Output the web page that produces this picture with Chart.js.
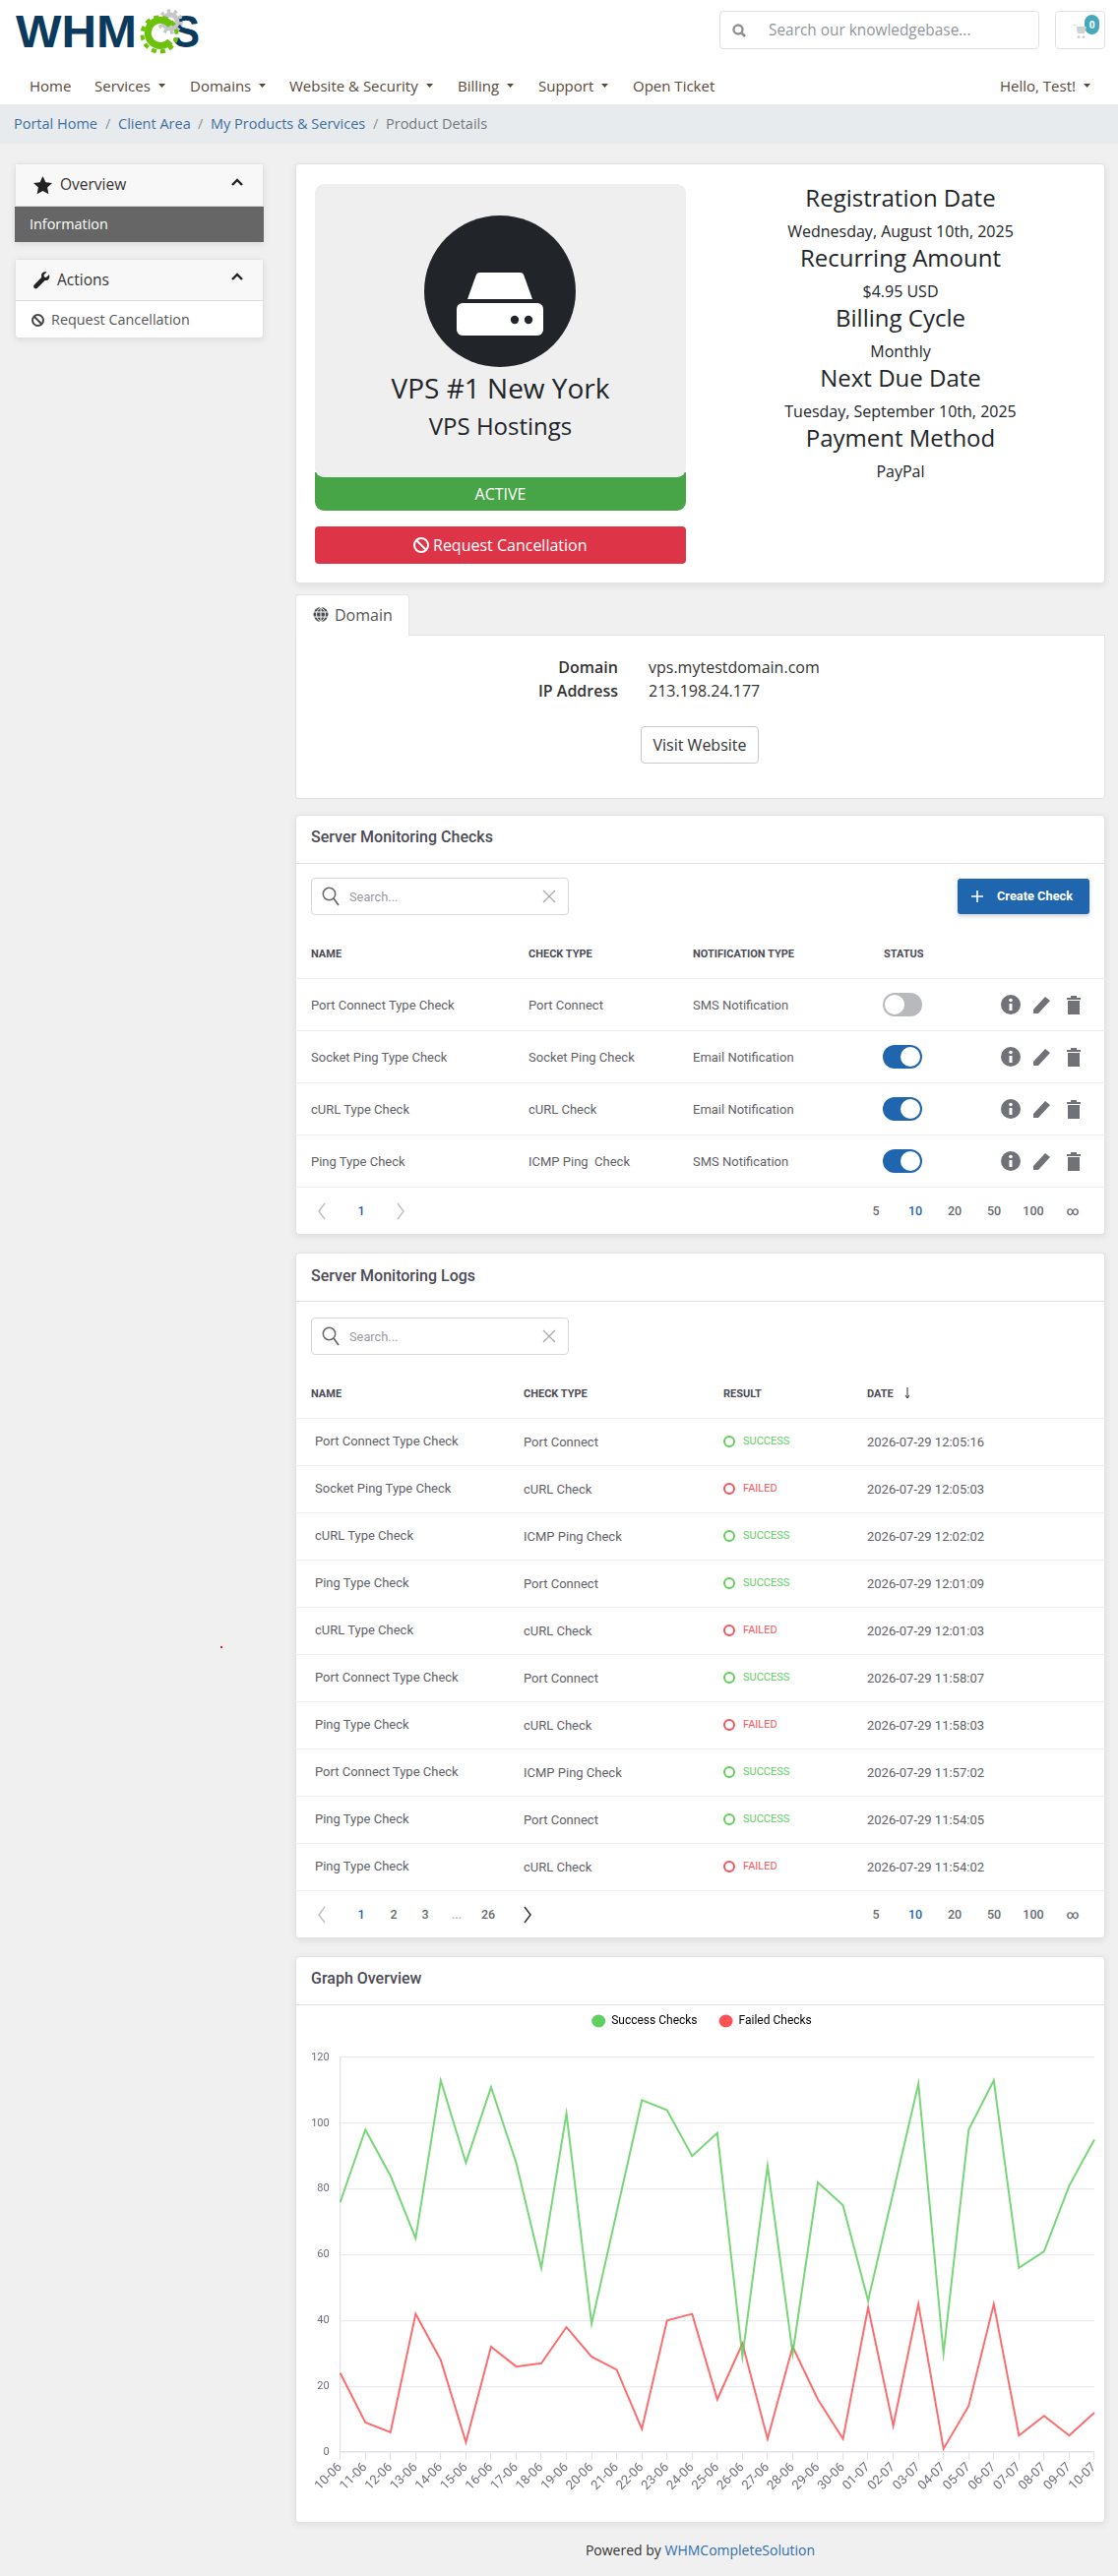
<!DOCTYPE html>
<html>
<head>
<meta charset="utf-8">
<title>Product Details</title>
<script src="https://cdn.jsdelivr.net/npm/chart.js@4"></script>
<style>
html,body{margin:0;padding:0;background:#f0f0f0;}
body{position:relative;width:1136px;height:2618px;overflow:hidden;font-family:"Open Sans",sans-serif;color:#212529;}
.b{position:absolute;box-sizing:border-box;}
.t{position:absolute;white-space:pre;line-height:1;}
.card{background:#fff;border:1px solid #e2e2e6;border-radius:4px;box-shadow:0 2px 6px rgba(60,60,90,.10);}
.r{font-family:Roboto,sans-serif;}
svg{position:absolute;overflow:visible;}
#graphWrap{position:absolute;left:300px;top:2026px;width:823px;height:536px;z-index:5;}
#graph{display:block;}
</style>
</head>
<body>
<div id="graphWrap"><canvas id="graph" width="823" height="536"></canvas></div>
<script>
const dayLabels = ["10-06","11-06","12-06","13-06","14-06","15-06","16-06","17-06","18-06","19-06","20-06","21-06","22-06","23-06","24-06","25-06","26-06","27-06","28-06","29-06","30-06","01-07","02-07","03-07","04-07","05-07","06-07","07-07","08-07","09-07","10-07"];
const successChecks = [76,98,84,65,113,88,111,88,56,103,39,73,107,104,90,97,29,87,30,82,75,46,79,112,30,98,113,56,61,81,95];
const failedChecks = [24,9,6,42,28,3,32,26,27,38,29,25,7,40,42,16,33,4,32,16,4,44,8,45,1,14,45,5,11,5,12];
const yTicks = [0,20,40,60,80,100,120];

const navItems = [["Home",30,0],["Services",96,1],["Domains",193,1],["Website & Security",294,1],["Billing",465,1],["Support",547,1],["Open Ticket",643,0],["Hello, Test!",1016,1]];
const crumbs = [["Portal Home",14,"#3d6f9e"],["/",107,"#8a8f95"],["Client Area",120,"#3d6f9e"],["/",201,"#8a8f95"],["My Products & Services",214,"#3d6f9e"],["/",379,"#8a8f95"],["Product Details",392,"#70777d"]];
const productInfo = [["Registration Date",201,24],["Wednesday, August 10th, 2025",235,16],["Recurring Amount",262,24],["$4.95 USD",296,16],["Billing Cycle",323,24],["Monthly",357,16],["Next Due Date",384,24],["Tuesday, September 10th, 2025",418,16],["Payment Method",445,24],["PayPal",479,16]];
const checkRows = [["Port Connect Type Check","Port Connect","SMS Notification",0],["Socket Ping Type Check","Socket Ping Check","Email Notification",1],["cURL Type Check","cURL Check","Email Notification",1],["Ping Type Check","ICMP Ping  Check","SMS Notification",1]];
const logRows = [["Port Connect Type Check","Port Connect","SUCCESS","2026-07-29 12:05:16"],["Socket Ping Type Check","cURL Check","FAILED","2026-07-29 12:05:03"],["cURL Type Check","ICMP Ping Check","SUCCESS","2026-07-29 12:02:02"],["Ping Type Check","Port Connect","SUCCESS","2026-07-29 12:01:09"],["cURL Type Check","cURL Check","FAILED","2026-07-29 12:01:03"],["Port Connect Type Check","Port Connect","SUCCESS","2026-07-29 11:58:07"],["Ping Type Check","cURL Check","FAILED","2026-07-29 11:58:03"],["Port Connect Type Check","ICMP Ping Check","SUCCESS","2026-07-29 11:57:02"],["Ping Type Check","Port Connect","SUCCESS","2026-07-29 11:54:05"],["Ping Type Check","cURL Check","FAILED","2026-07-29 11:54:02"]];
const pageSizes = [["5",890],["10",930],["20",970],["50",1010],["100",1050],["∞",1090]];

const B = document.body;
const WRAP = document.getElementById('graphWrap');
function box(x,y,w,h,css,cls){const d=document.createElement('div');d.className='b '+(cls||'');d.style.cssText=`left:${x}px;top:${y}px;width:${w}px;height:${h}px;`+(css||'');B.insertBefore(d,WRAP);return d;}
function text(x,y,s,css,anchor,cls){const d=document.createElement('div');d.className='t '+(cls||'');d.textContent=s;const tx=anchor==='c'?'-50%':anchor==='r'?'-100%':'0';d.style.cssText=`left:${x}px;top:${y}px;transform:translate(${tx},-50%);`+(css||'');B.appendChild(d);return d;}
function svg(x,y,w,h,inner,vb){const n='http://www.w3.org/2000/svg';const s=document.createElementNS(n,'svg');s.setAttribute('viewBox',vb||`0 0 ${w} ${h}`);s.style.cssText=`left:${x}px;top:${y}px;width:${w}px;height:${h}px;`;s.innerHTML=inner;B.appendChild(s);return s;}
function banIcon(x,y,r,c){svg(x-r,y-r,2*r,2*r,`<circle cx="${r}" cy="${r}" r="${r-1}" fill="none" stroke="${c}" stroke-width="2"/><line x1="${r*.35}" y1="${r*.35}" x2="${r*1.65}" y2="${r*1.65}" stroke="${c}" stroke-width="2"/>`);}

/* header */
box(0,0,1136,106,'background:#fff;');
box(0,106,1136,40,'background:#e8ebee;');
svg(10,5,200,55,`
<text x="6" y="43" font-family="Liberation Sans" font-weight="700" font-size="46" fill="#0b3a5c" textLength="123" lengthAdjust="spacingAndGlyphs">WHM</text>
<text x="165" y="43" font-family="Liberation Sans" font-weight="700" font-size="46" fill="#0b3a5c" textLength="28" lengthAdjust="spacingAndGlyphs">S</text>
<g fill="none">
<circle cx="163" cy="17" r="11" stroke="#c4c6c8" stroke-width="3.500" stroke-dasharray="3.500 3.400"/>
<circle cx="163" cy="17" r="7" stroke="#c4c6c8" stroke-width="5"/>
<circle cx="152" cy="30" r="17.500" stroke="#6cc20a" stroke-width="4" stroke-dasharray="5 4.160" transform="rotate(10 152 30)"/>
<path d="M163.500 20.500A13 13 0 1 0 163 37" stroke="#6cc20a" stroke-width="7"/>
<path d="M160 20a3.500 3.500 0 0 0 5 -4" stroke="#6cc20a" stroke-width="2.500"/>
</g>`);
box(731,11,325,39,'background:#fff;border:1px solid #dee2e6;border-radius:4px;');
svg(744,24,14,14,`<circle cx="6" cy="6" r="4.500" fill="none" stroke="#8d9296" stroke-width="2.400"/><line x1="9" y1="9" x2="13" y2="13" stroke="#8d9296" stroke-width="2.600"/>`);
text(781,31,"Search our knowledgebase...","font-size:15.400px;color:#8f959a;");
box(1072,11,51,39,'background:#fff;border:1px solid #dee2e6;border-radius:4px;');
svg(1090,24,14,16,`<path d="M0 1h3l2 9h7l2-7H4" fill="#cfd2d5"/><circle cx="6" cy="13.500" r="1.600" fill="#cfd2d5"/><circle cx="11" cy="13.500" r="1.600" fill="#cfd2d5"/>`);
box(1102,15,15,20,'background:#45a9bd;border-radius:8px;');
text(1109.500,25,"0","font-size:10px;font-weight:700;color:#fff;",'c');
navItems.forEach(([s,x,c])=>{const el=text(x,87,s,"font-size:15px;color:#58493b;");if(c){const w=el.getBoundingClientRect().width;svg(x+w+8,85,8,5,`<path d="M0 0h7L3.500 4z" fill="#58493b"/>`);}});
crumbs.forEach(([s,x,c])=>text(x,126,s,`font-size:14.500px;color:${c};`));

/* sidebar */
box(15,166,253,81,'',"card");
box(16,167,251,43,'background:#f8f8f8;border-bottom:1px solid #ddd;');
box(15,210,253,36,'background:#666;');
svg(34,179,19,19,`<path d="M9.500 0l2.900 6.200 6.600.8-4.900 4.600 1.300 6.700-5.900-3.300-5.900 3.300 1.300-6.700L0 7l6.600-.8z" fill="#222"/>`);
text(61,188,"Overview","font-size:15.500px;color:#333;");
svg(235,181,12,8,`<polyline points="1,7 6,2 11,7" fill="none" stroke="#222" stroke-width="2.400"/>`);
text(30,228,"Information","font-size:14.400px;color:#fff;");
box(15,263,253,81,'',"card");
box(16,264,251,42,'background:#f8f8f8;border-bottom:1px solid #ddd;');
svg(34,276,17,18,`<path d="M16 3l-3 3-2-.5L10.500 3.500l3-3C10.500-.5 8 1.500 8 4c0 .8.1 1.200.3 1.700L.8 13.500c-.9 1-.9 2.300 0 3.200s2.200.9 3.100 0l7.800-7.700c2.700.7 5.500-1.700 4.300-6z" fill="#222"/>`);
text(58,285,"Actions","font-size:15.500px;color:#333;");
svg(235,277,12,8,`<polyline points="1,7 6,2 11,7" fill="none" stroke="#222" stroke-width="2.400"/>`);
banIcon(38.500,325,6.500,"#444");
text(52,325,"Request Cancellation","font-size:14.400px;color:#555;");

/* product card */
box(300,166,823,427,'',"card");
box(320,480,377,39,'background:#47a548;border-radius:0 0 9px 9px;');
box(320,187,377,298,'background:#efefef;border-radius:9px;');
text(508.500,502,"ACTIVE","font-size:16px;color:#fff;",'c');
box(320,535,377,38,'background:#dd3547;border-radius:4px;');
banIcon(428,554,8,"#fff");
text(440,554,"Request Cancellation","font-size:16px;color:#fff;");
svg(431,219,154,154,`<circle cx="77" cy="77" r="77" fill="#212529"/>
<path d="M53 60Q54 58 56 58H98Q100 58 101 60L110 85H44Z" fill="#fff"/>
<rect x="33" y="90" width="88" height="33" rx="6" fill="#fff" transform="translate(0,-1)"/>
<circle cx="92" cy="106" r="4.200" fill="#212529"/><circle cx="106" cy="106" r="4.200" fill="#212529"/>`);
text(508.500,393.500,"VPS #1 New York","font-size:28px;color:#212529;",'c');
text(508.500,432.500,"VPS Hostings","font-size:24px;color:#212529;",'c');
productInfo.forEach(([s,y,f])=>text(915,y,s,`font-size:${f}px;color:#212529;`,'c'));

/* domain */
box(300,645,823,167,'background:#fff;border:1px solid #e0e0e0;border-radius:0 0 3px 3px;');
box(300,604,116,42,'background:#fff;border:1px solid #e4e4e4;border-bottom:none;border-radius:4px 4px 0 0;');
svg(318,616,16,17,`<circle cx="8" cy="8.500" r="7.500" fill="#4a4f54"/><path d="M0 6h16M0 11h16M8 1v15M8 1c-6 4-6 11 0 15M8 1c6 4 6 11 0 15" stroke="#fff" stroke-width="1" fill="none"/>`);
text(340,625,"Domain","font-size:16px;color:#555;");
text(628,678,"Domain","font-size:16px;font-weight:600;color:#333;",'r');
text(628,702,"IP Address","font-size:16px;font-weight:600;color:#333;",'r');
text(659,678,"vps.mytestdomain.com","font-size:16px;color:#333;");
text(659,702,"213.198.24.177","font-size:16px;color:#333;");
box(651,738,120,38,'background:#fff;border:1px solid #c8c8c8;border-radius:4px;');
text(711,757,"Visit Website","font-size:16px;color:#333;",'c');

/* helpers for datatable cards */
function searchBox(y){
 box(316,y,262,38,'background:#fff;border:1px solid #d8d6de;border-radius:4px;');
 svg(327,y+9,18,20,`<circle cx="7.500" cy="7.500" r="6.200" fill="none" stroke="#666" stroke-width="1.500"/><line x1="12" y1="12" x2="17" y2="19" stroke="#666" stroke-width="1.700"/>`);
 text(355,y+19.500,"Search...","font-size:12.800px;color:#9a9aa2;","l","r");
 svg(552,y+13,12,12,`<path d="M0 0L12 12M12 0L0 12" stroke="#a8a8ae" stroke-width="1.200"/>`);
}
function sizes(y){
 pageSizes.forEach(([s,x])=>text(x,y,s,`font-size:12.500px;font-weight:500;color:${s==='10'?'#1f66ae':'#66696f'};`,'c','r'));
}
function chev(x,y,dir,c){const p=dir<0?"7,0 1,8 7,16":"1,0 7,8 1,16";svg(x-4,y-8,8,16,`<polyline points="${p}" fill="none" stroke="${c}" stroke-width="1.500"/>`);}

/* checks */
box(300,828,823,427,'',"card");
box(300,877,823,1,'background:#e0e0e6;');
text(316,851,"Server Monitoring Checks","font-size:16px;font-weight:500;color:#4b4b55;","l","r");
searchBox(892);
box(973,893,134,36,'background:#1f66ae;border-radius:3px;box-shadow:0 2px 4px rgba(0,0,0,.2);');
svg(987,905,12,12,`<path d="M6 0v12M0 6h12" stroke="#fff" stroke-width="1.600"/>`);
text(1013,911,"Create Check","font-size:12.800px;font-weight:700;color:#fff;","l","r");
[["NAME",316],["CHECK TYPE",537],["NOTIFICATION TYPE",704],["STATUS",898]].forEach(([s,x])=>text(x,969,s,"font-size:11px;font-weight:700;color:#4b4b55;","l","r"));
[994,1047,1100,1153,1206].forEach(y=>box(300,y,823,1,'background:#eeeef2;'));
checkRows.forEach((row,i)=>{
 const y=1021+i*53;
 text(316,y-0.500,row[0],"font-size:13px;color:#5f5f68;","l","r");
 text(537,y-0.500,row[1],"font-size:13px;color:#5f5f68;","l","r");
 text(704,y-0.500,row[2],"font-size:13px;color:#5f5f68;","l","r");
 const on=row[3];
 box(897,y-12,40,24,`background:${on?'#1f66ae':'#b8b9bd'};border-radius:12px;`);
 box(on?915:899,y-10,20,20,'background:#fff;border-radius:50%;');
 svg(1017,y-10,20,20,`<circle cx="10" cy="10" r="10" fill="#707278"/><rect x="8.500" y="9" width="3" height="7" fill="#fff"/><circle cx="10" cy="5.500" r="1.800" fill="#fff"/>`);
 svg(1049,y-10,20,20,`<path d="M1 15L13 2l5 4L6 19H1z" fill="#707278"/>`);
 svg(1084,y-10,14,20,`<path d="M0 3h14v2H0zM4 1h6v2H4zM1 6h12v14H1z" fill="#707278"/>`);
});
chev(327,1231,-1,"#c0c0c6");text(367,1231,"1","font-size:12.500px;font-weight:500;color:#1f66ae;",'c','r');chev(407,1231,1,"#c0c0c6");
sizes(1231);

/* logs */
box(300,1273,823,697,'',"card");
box(300,1322,823,1,'background:#e0e0e6;');
text(316,1297,"Server Monitoring Logs","font-size:16px;font-weight:500;color:#4b4b55;","l","r");
searchBox(1339);
[["NAME",316],["CHECK TYPE",532],["RESULT",735],["DATE",881]].forEach(([s,x])=>text(x,1416,s,"font-size:11px;font-weight:700;color:#4b4b55;","l","r"));
svg(919,1410,6,12,`<path d="M3 0v11M1 8l2 3 2-3" stroke="#333" stroke-width="1" fill="none"/>`);
logRows.forEach((row,i)=>{
 const top=1441+i*48,y=top+24;
 box(300,top,823,1,'background:#eeeef2;');
 text(320,y-1.500,row[0],"font-size:13px;color:#5f5f68;","l","r");
 text(532,y,row[1],"font-size:13px;color:#5f5f68;","l","r");
 const ok=row[2]==='SUCCESS',c=ok?'#5fcf5f':'#f5545a';
 box(735,y-6,12,12,`border:2px solid ${c};border-radius:50%;`);
 text(755,y-1,row[2],`font-size:11px;color:${c};`,"l","r");
 text(881,y,row[3],"font-size:13px;color:#5f5f68;","l","r");
});
box(300,1921,823,1,'background:#eeeef2;');
chev(327,1946,-1,"#c0c0c6");
[["1",367,'#1f66ae'],["2",400,'#66696f'],["3",432,'#66696f'],["...",464,'#b0b0b6'],["26",496,'#66696f']].forEach(([s,x,c])=>text(x,1946,s,`font-size:12.500px;font-weight:500;color:${c};`,'c','r'));
chev(536,1946,1,"#333");
sizes(1946);

/* graph card */
box(300,1988,823,576,'',"card");
box(300,2037,823,1,'background:#e0e0e6;');
text(316,2011,"Graph Overview","font-size:16px;font-weight:500;color:#4b4b55;","l","r");

/* footer */
const ft=text(711.500,2592,"Powered by ","font-size:14px;color:#333;",'c');
const a=document.createElement('span');a.textContent="WHMCompleteSolution";a.style.color="#2f6eac";ft.appendChild(a);
box(224,1673,2,2,'background:#f01030;');

/* chart */
const legendGap={id:'legendGap',beforeInit(chart){const f=chart.legend.fit;chart.legend.fit=function(){f.call(this);this.height+=21;};}};
Chart.defaults.font.family = "Roboto, sans-serif";
Chart.defaults.color = "#6e6b7b";
new Chart(document.getElementById('graph'),{
 type:'line',
 plugins:[legendGap],
 data:{labels:dayLabels,datasets:[
  {label:'Success Checks',data:successChecks,borderColor:'rgba(95,207,95,.85)',backgroundColor:'#5fcf5f',borderWidth:2,pointRadius:0,tension:0,fill:false},
  {label:'Failed Checks',data:failedChecks,borderColor:'rgba(250,84,86,.85)',backgroundColor:'#fc5455',borderWidth:2,pointRadius:0,tension:0,fill:false}
 ]},
 options:{
  responsive:false,animation:false,maintainAspectRatio:false,devicePixelRatio:1,
  layout:{padding:{left:13,right:10,top:0,bottom:0}},
  plugins:{
   legend:{display:true,position:'top',labels:{usePointStyle:true,pointStyle:'circle',boxWidth:13,boxHeight:9.200,pointStyleWidth:14,padding:22,font:{size:12},color:'#5e5873',generateLabels(chart){return chart.data.datasets.map((d,i)=>({text:d.label,fillStyle:d.backgroundColor,strokeStyle:d.backgroundColor,lineWidth:0,pointStyle:'circle',datasetIndex:i}));}}},
   tooltip:{enabled:false}
  },
  scales:{
   x:{offset:false,grid:{display:true,drawOnChartArea:false,drawTicks:true,tickLength:8,color:'#e3e2ec',lineWidth:1.200},border:{color:'#e3e2ec',width:1.500},ticks:{autoSkip:false,maxRotation:45,minRotation:45,font:{size:13},color:'#6e6b7b',padding:0},afterFit(s){s.height=70;}},
   y:{min:0,max:120,afterBuildTicks(s){s.ticks=yTicks.map(v=>({value:v}));},grid:{color:'#ebeaf1',lineWidth:1.300,drawTicks:false},border:{color:'#e3e2ec',width:1.300},ticks:{padding:11,font:{size:11},color:'#6e6b7b'},afterFit(s){s.width=32.700;}}
  }
 }
});
</script>
</body>
</html>
